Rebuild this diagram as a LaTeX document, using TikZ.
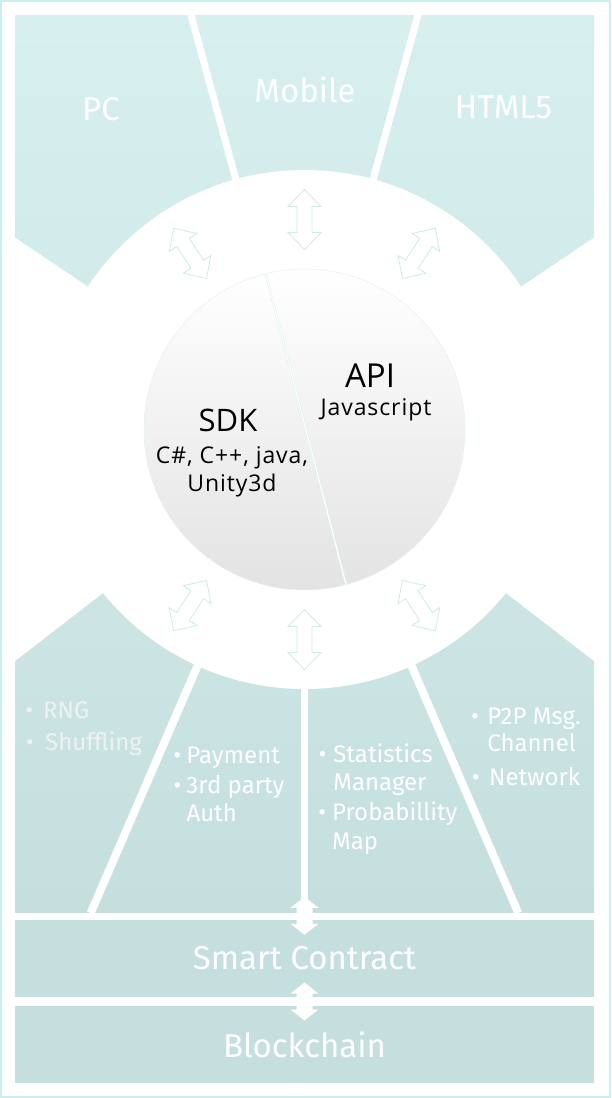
\documentclass[tikz,border=0pt]{standalone}
\usepackage{fontspec}
\setmainfont{Fira Sans}
\newfontfamily\spherefont{Open Sans}
\newfontfamily\spherewide[LetterSpace=4]{Open Sans}
\usetikzlibrary{calc}

\definecolor{rim}{HTML}{CBEEEE}
\definecolor{tealtop}{HTML}{D7F0EF}
\definecolor{tealmid}{HTML}{D1EBEA}
\definecolor{teallow}{HTML}{CDE6E5}
\definecolor{tealbot}{HTML}{C4DFDE}
\definecolor{tealband}{HTML}{C5DFDF}
\definecolor{arrowline}{HTML}{CFEBE9}
\definecolor{fadetext}{HTML}{EEF1F1}
\definecolor{sphgray}{HTML}{E3E3E3}

\tikzset{
  panel/.style={text=white,inner sep=0,anchor=base,font=\fontsize{33}{40}\selectfont},
  item/.style={text=white,inner sep=0,anchor=base west,font=\fontsize{24}{29}\selectfont},
  band/.style={fill=tealband,minimum width=579pt,minimum height=77pt,inner sep=0,
    text=white,font=\fontsize{33}{40}\selectfont},
  gap/.style={white,line width=7pt},
  hollow/.style={fill=white,draw=arrowline,line width=0.8pt},
  sphere/.style={circle,minimum size=321pt,inner sep=0,top color=white,bottom color=sphgray,
    draw=arrowline!60,line width=0.5pt},
  coretext/.style={inner sep=0,anchor=base,text=black,font=\spherewide\fontsize{23}{28}\selectfont}
}
\newcommand{\pbul}[1]{\llap{•\hspace{#1pt}}}

\begin{document}
\begin{tikzpicture}[x=1pt,y=-1pt]
\useasboundingbox (0,0) rectangle (611,1098);
\draw[rim,line width=2pt] (1,1) rectangle (610,1097);
\coordinate (c) at (304.5,429.5);

% panels
\shade[top color=tealtop,bottom color=tealmid] (15,15) rectangle (594,300);
\shade[top color=teallow,bottom color=tealbot] (15,575) rectangle (594,912);
\fill[white] (14,237) -- (110,301.4) -- (110,302) -- (14,302) -- cycle;
\fill[white] (595,237) -- (499,301.4) -- (499,302) -- (595,302) -- cycle;
\fill[white] (14,661.8) -- (125,576) -- (125,573) -- (14,573) -- cycle;
\fill[white] (595,661.8) -- (484,576) -- (484,573) -- (595,573) -- cycle;
\fill[white] (c) circle (259.5);

% separators
\draw[gap] (190.2,12) -- (240.1,195);
\draw[gap] (418.8,12) -- (368.9,195);
\draw[gap,line width=8pt] (204.3,650) -- (90.7,913);
\draw[gap,line width=8pt] (404.7,650) -- (518.3,913);
\draw[gap] (304.5,680) -- (304.5,913);

\node[panel] (pc) at (101,120) {PC};
\node[panel] (mobile) at (305,102.7) {Mobile};
\node[panel] (html) at (503.5,118.3) {HTML5};

% lower panel items
\node[item,text=fadetext] (rng) at (43,718.3) {\pbul{10}RNG};
\node[item,text=fadetext] (shuf) at (45,750.7) {\pbul{11.5}Shuffling};
\node[item] (pay) at (186.3,763.3) {\pbul{5}Payment};
\node[item] (auth) at (186.3,793.3) {\pbul{5}3rd party};
\node[item] (auth2) at (186.3,821.7) {Auth};
\node[item] (stat) at (333.2,762.7) {\pbul{7}Statistics};
\node[item] (stat2) at (333.2,790.7) {Manager};
\node[item] (prob) at (332,820.7) {\pbul{6}Probabillity};
\node[item] (prob2) at (332,849.3) {Map};
\node[item] (p2p) at (487.1,724) {\pbul{8.5}P2P Msg.};
\node[item] (p2p2) at (487.1,751.7) {Channel};
\node[item] (net) at (489,785) {\pbul{9.5}Network};

% bottom layers
\node[band] (sc) at (304.5,958.5) {Smart Contract};
\node[band] (bc) at (304.5,1044.5) {Blockchain};
\fill[white,shift={($(sc.north)+(0,-4)$)}] (0,-19) -- (14,-8) -- (8,-8) -- (8,8) -- (14,8)
  -- (0,19) -- (-14,8) -- (-8,8) -- (-8,-8) -- (-14,-8) -- cycle;
\fill[white,shift={($(sc.south)!.5!(bc.north)$)}] (0,-19) -- (14,-8) -- (8,-8) -- (8,8) -- (14,8)
  -- (0,19) -- (-14,8) -- (-8,8) -- (-8,-8) -- (-14,-8) -- cycle;

% hollow arrows round the core
\foreach \r in {123,90,57,-57,-90,-123}
  \draw[hollow,shift={(c)},rotate=\r] (180,0) -- (197,-16.5) -- (197,-7.5) -- (223,-7.5)
    -- (223,-16.5) -- (240,0) -- (223,16.5) -- (223,7.5) -- (197,7.5) -- (197,16.5) -- cycle;

% core
\node[sphere] (core) at (c) {};
\draw[arrowline!70,line width=2.2pt] (core.104.85) -- (core.-75.2);
\draw[white,line width=1.1pt] (core.104.85) -- (core.-75.2);

\node[coretext,font=\spherefont\fontsize{31}{36}\selectfont] (sdk) at (228,431.7) {SDK};
\node[coretext] (sdklang) at (232,463.3) {C\#, C++, java,};
\node[coretext] (unity) at (232,491.7) {Unity3d};
\node[coretext,font=\spherefont\fontsize{33}{38}\selectfont] (api) at (370,387.7) {API};
\node[coretext] (js) at (376,415) {Javascript};
\end{tikzpicture}
\end{document}
